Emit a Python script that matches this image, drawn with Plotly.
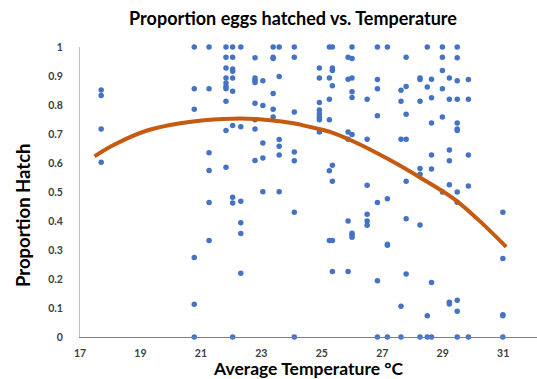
import plotly.graph_objects as go

# Scatter data: temperature columns and the hatch proportions observed at each
temps = [17.70, 20.78, 21.27, 21.83, 22.05, 22.32, 22.79, 23.05, 23.39, 23.59,
         24.09, 24.92, 25.25, 25.35, 25.87, 26.00, 26.50, 26.84, 27.17, 27.62,
         27.79, 28.25, 28.49, 28.63, 28.99, 29.22, 29.48, 29.85, 30.99]
hatch = [
    [0.852, 0.833, 0.717, 0.603],
    [1.0, 0.856, 0.785, 0.274, 0.113, 0.0],
    [1.0, 0.856, 0.635, 0.574, 0.464, 0.333],
    [1.0, 0.965, 0.928, 0.893, 0.876, 0.864, 0.856, 0.813, 0.712, 0.585],
    [1.0, 0.965, 0.924, 0.916, 0.893, 0.847, 0.729, 0.482, 0.462, 0.0],
    [1.0, 0.725, 0.468, 0.394, 0.357, 0.220],
    [0.963, 0.893, 0.885, 0.878, 0.806, 0.749, 0.717, 0.609],
    [0.884, 0.798, 0.669, 0.617, 0.501],
    [1.0, 0.965, 0.960, 0.840, 0.785, 0.759],
    [1.0, 0.898, 0.681, 0.658, 0.628, 0.501],
    [1.0, 0.965, 0.776, 0.638, 0.608, 0.430, 0.0],
    [0.928, 0.893, 0.809, 0.783, 0.770, 0.758, 0.749, 0.707],
    [1.0, 0.893, 0.820, 0.749, 0.573, 0.333],
    [1.0, 0.928, 0.919, 0.866, 0.592, 0.537, 0.333, 0.226],
    [0.965, 0.889, 0.707, 0.682, 0.400, 0.226],
    [1.0, 0.960, 0.893, 0.846, 0.826, 0.698, 0.358, 0.351, 0.344],
    [0.820, 0.682, 0.523, 0.423, 0.400, 0.385],
    [1.0, 0.888, 0.856, 0.763, 0.464, 0.194, 0.0],
    [1.0, 0.477, 0.320, 0.316, 0.0],
    [0.851, 0.813, 0.682, 0.106, 0.0],
    [0.965, 0.864, 0.768, 0.682, 0.537, 0.408, 0.217],
    [0.893, 0.888, 0.813, 0.581, 0.561, 0.386, 0.0],
    [1.0, 0.862, 0.073, 0.0],
    [0.889, 0.825, 0.738, 0.628, 0.579, 0.188, 0.0],
    [1.0, 0.965, 0.919, 0.856, 0.759, 0.500],
    [0.893, 0.820, 0.645, 0.608, 0.525, 0.120, 0.114],
    [1.0, 0.963, 0.884, 0.820, 0.738, 0.717, 0.712, 0.500, 0.465, 0.127, 0.089, 0.0],
    [0.888, 0.820, 0.628, 0.521, 0.0],
    [0.430, 0.271, 0.077, 0.073, 0.0],
]

# Trendline
trend_x = [17.48, 18.11, 19.22, 20.32, 21.42, 22.05, 22.79, 23.51, 24.06,
           24.62, 25.25, 26.05, 27.15, 28.25, 29.35, 30.13, 31.10]
trend_y = [0.623, 0.662, 0.712, 0.737, 0.750, 0.753, 0.752, 0.745, 0.737,
           0.724, 0.708, 0.674, 0.616, 0.550, 0.478, 0.409, 0.311]

x_ticks = [17, 19, 21, 23, 25, 27, 29, 31]
y_ticks = [0, 0.1, 0.2, 0.3, 0.4, 0.5, 0.6, 0.7, 0.8, 0.9, 1]

xs, ys = [], []
for t, vals in zip(temps, hatch):
    for v in vals:
        xs.append(t)
        ys.append(v)

FONT = "Lato"
fig = go.Figure()
fig.add_trace(go.Scatter(x=xs, y=ys, mode="markers", cliponaxis=False,
                         marker=dict(color="#4472C4", size=5.5, line=dict(width=0)),
                         showlegend=False, hoverinfo="skip"))
fig.add_trace(go.Scatter(x=trend_x, y=trend_y, mode="lines", line_shape="spline",
                         line=dict(color="#C55A11", width=4), showlegend=False,
                         hoverinfo="skip"))

fig.update_layout(
    width=537, height=379,
    margin=dict(l=80, r=0, t=47, b=42),
    paper_bgcolor="white", plot_bgcolor="white",
    font=dict(family=FONT, color="#000000"),
    title=dict(text="<b>Proportion eggs hatched vs. Temperature</b>",
               x=293 / 537, xanchor="center", y=1 - 19 / 379, yanchor="middle",
               font=dict(family=FONT, size=18, color="#000000")),
    xaxis=dict(range=[17, 32.12], tickvals=x_ticks,
               ticktext=[f"<b>{v}</b>" for v in x_ticks],
               showgrid=False, zeroline=False, showline=True,
               linecolor="#7f7f7f", linewidth=1, ticks="",
               tickfont=dict(family=FONT, size=10.5, color="#404040"),
               ticklabelstandoff=6),
    yaxis=dict(range=[0, 1], tickvals=y_ticks,
               ticktext=[f"<b>{v:g}</b>" for v in y_ticks],
               showgrid=False, zeroline=False, showline=True,
               linecolor="#bfbfbf", linewidth=1, ticks="",
               tickfont=dict(family=FONT, size=10.5, color="#404040"),
               ticklabelstandoff=14),
    annotations=[
        dict(text="<b>Average Temperature °C</b>", xref="paper", yref="paper",
             x=0.5, y=-(368.5 - 336.8) / 289.5, xanchor="center", yanchor="middle",
             showarrow=False, font=dict(family=FONT, size=17.5, color="#000000")),
        dict(text="<b>Proportion Hatch</b>", xref="paper", yref="paper",
             x=-(80 - 23) / 457, y=(336.8 - 215) / 289.5, xanchor="center",
             yanchor="middle", textangle=-90, showarrow=False,
             font=dict(family=FONT, size=18.5, color="#000000")),
    ],
)

fig.write_html("out.html")
